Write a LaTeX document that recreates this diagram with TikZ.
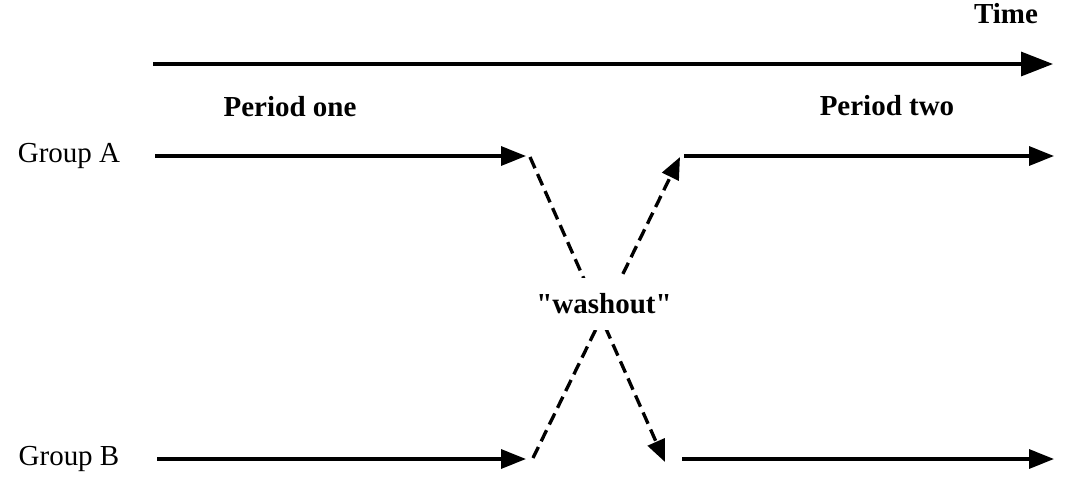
\documentclass[tikz,border=0pt]{standalone}
\usepackage{fontspec}
\setmainfont{Liberation Serif}[Ligatures=TeXOff]
\usetikzlibrary{arrows.meta,positioning}

\begin{document}
\begin{tikzpicture}[x=0.02cm,y=-0.02cm,font=\fontsize{16.5}{20}\selectfont,
 line width=1.9pt,
 >={Triangle[length=0.5cm,width=0.38cm]},
 label/.style={inner sep=0pt},
 heading/.style={inner sep=0pt,font=\fontsize{16.5}{20}\selectfont\bfseries},
 cross/.style={->,dash pattern=on 7pt off 3.6pt,>={Triangle[length=0.44cm,width=0.36cm]}}]
\useasboundingbox (0,0) rectangle (1080,478);
% time axis
\node[heading] (time) at (1006,14) {Time};
\coordinate (t0) at (153,64);
\coordinate (t1) at (1053,64);
\draw[->,>={Triangle[length=0.64cm,width=0.48cm]}] (t0) -- (t1);
\node[heading] (p1) at (290,107) {Period one};
\node[heading] (p2) at (887,106) {Period two};
% groups
\node[label] (ga) at (69,156) {Group A};
\node[label] (gb) at (69,459) {Group B};
\coordinate (a0) at (155,156); \coordinate (a1) at (526,156);
\coordinate (b0) at (157,459); \coordinate (b1) at (526,459);
\coordinate (a2) at (684,156); \coordinate (a3) at (1054,156);
\coordinate (b2) at (682,459); \coordinate (b3) at (1054,459);
\draw[->] (a0) -- (a1);
\draw[->] (b0) -- (b1);
\draw[->] (a2) -- (a3);
\draw[->] (b2) -- (b3);
% switch over
\coordinate (a1x) at (530,157);
\coordinate (b1x) at (533,458);
\coordinate (a2x) at (680,157);
\coordinate (b2x) at (665,462);
\draw[cross] (a1x) -- (b2x);
\draw[cross] (b1x) -- (a2x);
\node[heading,fill=white,inner xsep=4pt,inner ysep=9pt] (wash) at (604,304) {"washout"};
\end{tikzpicture}
\end{document}
